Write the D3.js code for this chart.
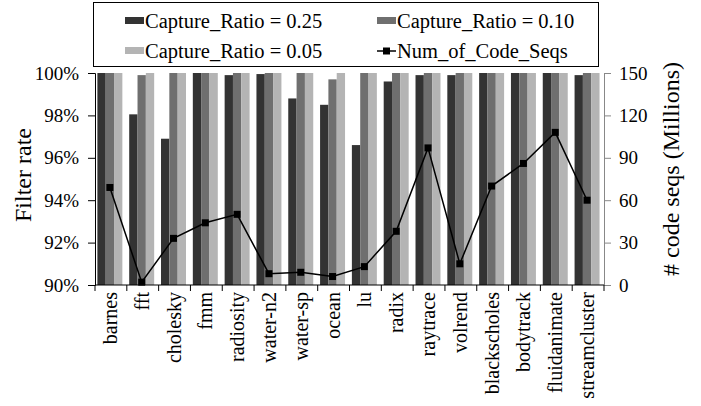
<!DOCTYPE html>
<html>
<head>
<meta charset="utf-8">
<script src="https://cdn.jsdelivr.net/npm/d3@7"></script>
<style>
  html, body { margin: 0; padding: 0; background: #fff; }
  svg { display: block; }
  svg text { font-family: "Liberation Serif", "Times New Roman", serif !important; fill: #000; }
</style>
</head>
<body>
<svg id="chart" width="701" height="406"></svg>
<script>
// Benchmarks on the x axis
const categories = ["barnes", "fft", "cholesky", "fmm", "radiosity", "water-n2", "water-sp",
  "ocean", "lu", "radix", "raytrace", "volrend", "blackscholes", "bodytrack", "fluidanimate", "streamcluster"];

// Filter rate (%) per capture ratio
const ratio025 = [100, 98.05, 96.9, 100, 99.9, 99.95, 98.8, 98.5, 96.6, 99.6, 99.9, 99.9, 100, 100, 100, 99.9];
const ratio010 = [100, 99.9, 100, 100, 100, 100, 100, 99.7, 100, 100, 100, 100, 100, 100, 100, 100];
const ratio005 = [100, 100, 100, 100, 100, 100, 100, 100, 100, 100, 100, 100, 100, 100, 100, 100];

// Number of code sequences (millions)
const numCodeSeqs = [69, 2, 33, 44, 50, 8, 9, 6, 13, 38, 97, 15, 70, 86, 108, 60];

const seriesNames = ["Capture_Ratio = 0.25", "Capture_Ratio = 0.10", "Capture_Ratio = 0.05"];
const lineName = "Num_of_Code_Seqs";
const leftTicks = [90, 92, 94, 96, 98, 100];
const rightTicks = [0, 30, 60, 90, 120, 150];

const colors = ["#333333", "#6f6f6f", "#b4b4b4"];
const series = [ratio025, ratio010, ratio005];

const svg = d3.select("#chart");
const plot = { left: 95, right: 604, top: 73, bottom: 285 };

const x = d3.scaleBand().domain(categories).range([plot.left, plot.right]).padding(0);
const xInner = d3.scaleBand().domain(d3.range(series.length))
  .range([x.bandwidth() * 0.075, x.bandwidth() * 0.86]).padding(0);
const yLeft = d3.scaleLinear().domain([90, 100]).range([plot.bottom, plot.top]);
const yRight = d3.scaleLinear().domain([0, 150]).range([plot.bottom, plot.top]);

// Bars
const groups = svg.append("g").selectAll("g")
  .data(categories)
  .join("g")
  .attr("transform", d => `translate(${x(d)},0)`);

groups.selectAll("rect")
  .data((d, i) => series.map((s, k) => ({ k, v: s[i] })))
  .join("rect")
  .attr("x", d => xInner(d.k))
  .attr("width", xInner.bandwidth())
  .attr("y", d => yLeft(d.v))
  .attr("height", d => plot.bottom - yLeft(d.v))
  .attr("fill", d => colors[d.k]);

// Line of code sequence counts
const lineX = (d, i) => x(categories[i]) + xInner(1) + xInner.bandwidth() / 2;
const line = d3.line().x((d, i) => lineX(d, i)).y(d => yRight(d));
svg.append("path")
  .datum(numCodeSeqs)
  .attr("d", line)
  .attr("fill", "none")
  .attr("stroke", "#000")
  .attr("stroke-width", 1.5);

svg.append("g").selectAll("rect")
  .data(numCodeSeqs)
  .join("rect")
  .attr("x", (d, i) => lineX(d, i) - 3.5)
  .attr("y", d => yRight(d) - 3.5)
  .attr("width", 7)
  .attr("height", 7)
  .attr("fill", "#000");

// Left axis
const axL = svg.append("g")
  .attr("transform", `translate(${plot.left},0)`)
  .call(d3.axisLeft(yLeft).tickValues(leftTicks).tickFormat(d => d + "%").tickSize(7).tickPadding(9));
axL.selectAll("text").style("font-size", "19px");
axL.select(".domain").attr("stroke", "#000");

// Right axis
const axR = svg.append("g")
  .attr("transform", `translate(${plot.right},0)`)
  .call(d3.axisRight(yRight).tickValues(rightTicks).tickSize(7).tickPadding(8));
axR.selectAll("text").style("font-size", "19px");
axR.select(".domain").attr("stroke", "#888");
axR.selectAll(".tick line").attr("stroke", "#888");

// Bottom axis: ticks on category boundaries
const axB = svg.append("g").attr("transform", `translate(0,${plot.bottom})`);
axB.append("line").attr("x1", plot.left).attr("x2", plot.right).attr("stroke", "#000");
axB.selectAll("line.tk")
  .data(categories.concat([null]))
  .join("line")
  .attr("class", "tk")
  .attr("x1", (d, i) => plot.left + i * x.step())
  .attr("x2", (d, i) => plot.left + i * x.step())
  .attr("y1", 0).attr("y2", 6)
  .attr("stroke", "#000");
axB.selectAll("text")
  .data(categories)
  .join("text")
  .attr("transform", d => `translate(${x(d) + x.bandwidth() / 2 + 6},7) rotate(-90)`)
  .attr("text-anchor", "end")
  .style("font-size", "20px")
  .text(d => d);

// Axis titles
svg.append("text")
  .attr("transform", `translate(31,${(plot.top + plot.bottom) / 2 - 4}) rotate(-90)`)
  .attr("text-anchor", "middle")
  .style("font-size", "24px")
  .text("Filter rate");
svg.append("text")
  .attr("transform", `translate(679,${(plot.top + plot.bottom) / 2 - 10}) rotate(-90)`)
  .attr("text-anchor", "middle")
  .style("font-size", "24px")
  .text("# code seqs (Millions)");

// Legend
const legend = svg.append("g");
legend.append("rect")
  .attr("x", 93.5).attr("y", 2.5).attr("width", 505).attr("height", 64)
  .attr("fill", "#fff").attr("stroke", "#000");
const legendItems = [
  { label: seriesNames[0], color: colors[0], col: 0, row: 0 },
  { label: seriesNames[1], color: colors[1], col: 1, row: 0 },
  { label: seriesNames[2], color: colors[2], col: 0, row: 1 },
  { label: lineName, color: null, col: 1, row: 1 }
];
const colX = [125, 377];
const rowY = [21, 51];
legendItems.forEach(it => {
  const gx = colX[it.col], gy = rowY[it.row];
  if (it.color) {
    legend.append("rect").attr("x", gx).attr("y", gy - 4).attr("width", 19).attr("height", 7).attr("fill", it.color);
  } else {
    legend.append("line").attr("x1", gx).attr("x2", gx + 19).attr("y1", gy).attr("y2", gy)
      .attr("stroke", "#000").attr("stroke-width", 1.5);
    legend.append("rect").attr("x", gx + 6).attr("y", gy - 3.5).attr("width", 7).attr("height", 7).attr("fill", "#000");
  }
  legend.append("text").attr("x", gx + 20).attr("y", gy + 7)
    .style("font-size", "20.5px").text(it.label);
});
</script>
</body>
</html>
